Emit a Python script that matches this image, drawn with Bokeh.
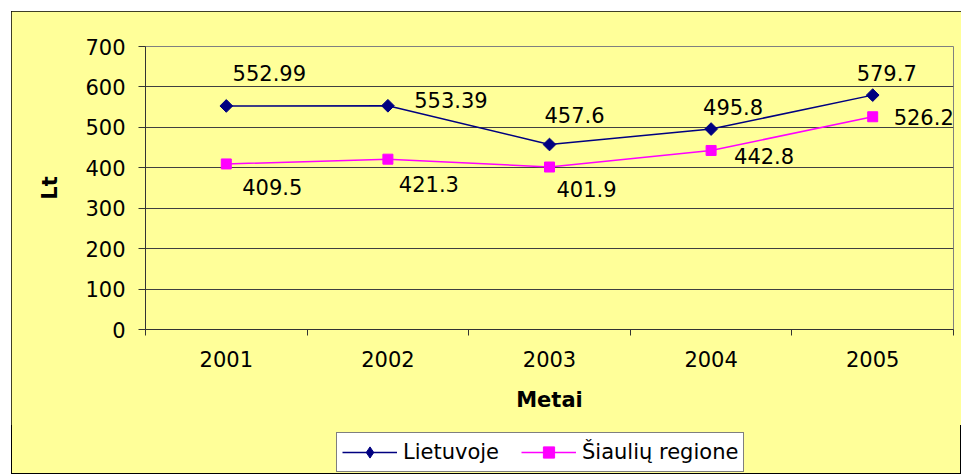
import math
from bokeh.plotting import figure
from bokeh.layouts import column
from bokeh.models import (Range1d, FixedTicker, Legend, LegendItem, ColumnDataSource)
from bokeh.embed import file_html
from bokeh.resources import INLINE
from bokeh.core.properties import value

# ---- data ----
years = ["2001", "2002", "2003", "2004", "2005"]
lietuvoje = [552.99, 553.39, 457.6, 495.8, 579.7]
siauliu = [409.5, 421.3, 401.9, 442.8, 526.2]
y_ticks = [0, 100, 200, 300, 400, 500, 600, 700]
series_names = ["Lietuvoje", "Šiaulių regione"]
x_title = "Metai"
y_title = "Lt"

# ---- label placement (pixel offsets, styling only) ----
lt_dx = [43, 63, 25, 22, 14]
lt_dy = [-33, -6, -29, -22, -22]
sr_dx = [46, 41, 37, 53, 51]
sr_dy = [23, 25, 22, 6, 0]

FONT = "DejaVu Sans"
BG = "#FFFF99"
FS = "21px"
NAVY = "#000080"
MAGENTA = "#FF00FF"

xpos = [i + 0.5 for i in range(len(years))]

p = figure(width=950, height=414, output_backend="svg", toolbar_location=None,
           x_range=Range1d(0, len(years)), y_range=Range1d(0, 700),
           min_border_left=134, min_border_right=8, min_border_top=35,
           min_border_bottom=96)
p.background_fill_color = BG
p.border_fill_color = BG
p.outline_line_color = "#808080"
p.outline_line_width = 1

# axes
p.xaxis.ticker = FixedTicker(ticks=xpos, minor_ticks=list(range(len(years) + 1)))
p.xaxis.major_label_overrides = {x: y for x, y in zip(xpos, years)}
p.xaxis.major_tick_out = 0
p.xaxis.major_tick_in = 0
p.xaxis.minor_tick_out = 6
p.xaxis.minor_tick_in = 0
p.xaxis.minor_tick_line_color = "#333333"
p.xaxis.axis_line_color = "#333333"
p.xaxis.major_label_standoff = 15
p.xaxis.axis_label = x_title
p.xaxis.axis_label_standoff = 18
p.xaxis.axis_label_text_font_style = "bold"

p.yaxis.ticker = FixedTicker(ticks=y_ticks, minor_ticks=[])
p.yaxis.major_tick_out = 7
p.yaxis.major_tick_in = 0
p.yaxis.major_tick_line_color = "#333333"
p.yaxis.axis_line_color = "#333333"
p.yaxis.major_label_standoff = 13
p.yaxis.axis_label = y_title
p.yaxis.axis_label_standoff = 20
p.yaxis.axis_label_text_font_style = "bold"

for ax in (p.xaxis, p.yaxis):
    ax.major_label_text_font = FONT
    ax.major_label_text_font_size = FS
    ax.major_label_text_color = "black"
    ax.axis_label_text_font = FONT
    ax.axis_label_text_font_size = FS
    ax.axis_label_text_color = "black"

p.xgrid.visible = False
p.ygrid.grid_line_color = "#404040"
p.ygrid.grid_line_width = 1

# series
line_kw = [dict(line_color=NAVY, line_width=1.5), dict(line_color=MAGENTA, line_width=1.5)]
mark_kw = [dict(marker="square", angle=math.pi / 4, size=9, fill_color=NAVY, line_color=NAVY),
           dict(marker="square", size=10, fill_color=MAGENTA, line_color=MAGENTA)]
legend_mark_kw = [dict(marker="diamond", size=12, fill_color=NAVY, line_color=NAVY),
                  dict(marker="square", size=10, fill_color=MAGENTA, line_color=MAGENTA)]
series_vals = [lietuvoje, siauliu]

for vals, lk, mk in zip(series_vals, line_kw, mark_kw):
    p.line(xpos, vals, **lk)
    p.scatter(xpos, vals, **mk)

# data labels
for vals, dxs, dys in ((lietuvoje, lt_dx, lt_dy), (siauliu, sr_dx, sr_dy)):
    src = ColumnDataSource(dict(x=xpos, y=vals, t=[f"{v:g}" for v in vals],
                                dx=dxs, dy=dys))
    p.text(x="x", y="y", text="t", x_offset="dx", y_offset="dy", source=src,
           text_font=value(FONT), text_font_size=FS, text_color="black",
           text_align="center", text_baseline="middle")

# legend strip (same yellow chart area, below the axis title)
p2 = figure(width=950, height=49, output_backend="svg", toolbar_location=None,
            x_range=Range1d(0, 1), y_range=Range1d(0, 1),
            x_axis_type=None, y_axis_type=None,
            min_border_left=134, min_border_right=8, min_border_top=0,
            min_border_bottom=0)
p2.background_fill_alpha = 0
p2.border_fill_alpha = 0
p2.outline_line_color = None
p2.grid.visible = False

items = []
for name, vals, lk, mk in zip(series_names, series_vals, line_kw, legend_mark_kw):
    # same series, outside this strip's view: only their legend glyphs show
    r1 = p2.line(xpos, vals, **lk)
    r2 = p2.scatter(xpos, vals, **mk)
    items.append(LegendItem(label=name, renderers=[r1, r2], index=0))

legend = Legend(items=items, orientation="horizontal", location=(191, 2))
legend.background_fill_color = "white"
legend.background_fill_alpha = 1
legend.border_line_color = "black"
legend.border_line_width = 1
legend.label_text_font = FONT
legend.label_text_font_size = FS
legend.label_text_color = "black"
legend.glyph_width = 55
legend.glyph_height = 28
legend.label_standoff = 6
legend.spacing = 22
legend.padding = 5
legend.margin = 0
p2.add_layout(legend, "center")

layout = column(p, p2, spacing=0)
layout.styles = {"margin-left": "11px", "margin-top": "11px",
                 "background-color": BG,
                 "outline": "1px solid black", "outline-offset": "-1px"}

open("out.html", "w").write(file_html(layout, INLINE))
